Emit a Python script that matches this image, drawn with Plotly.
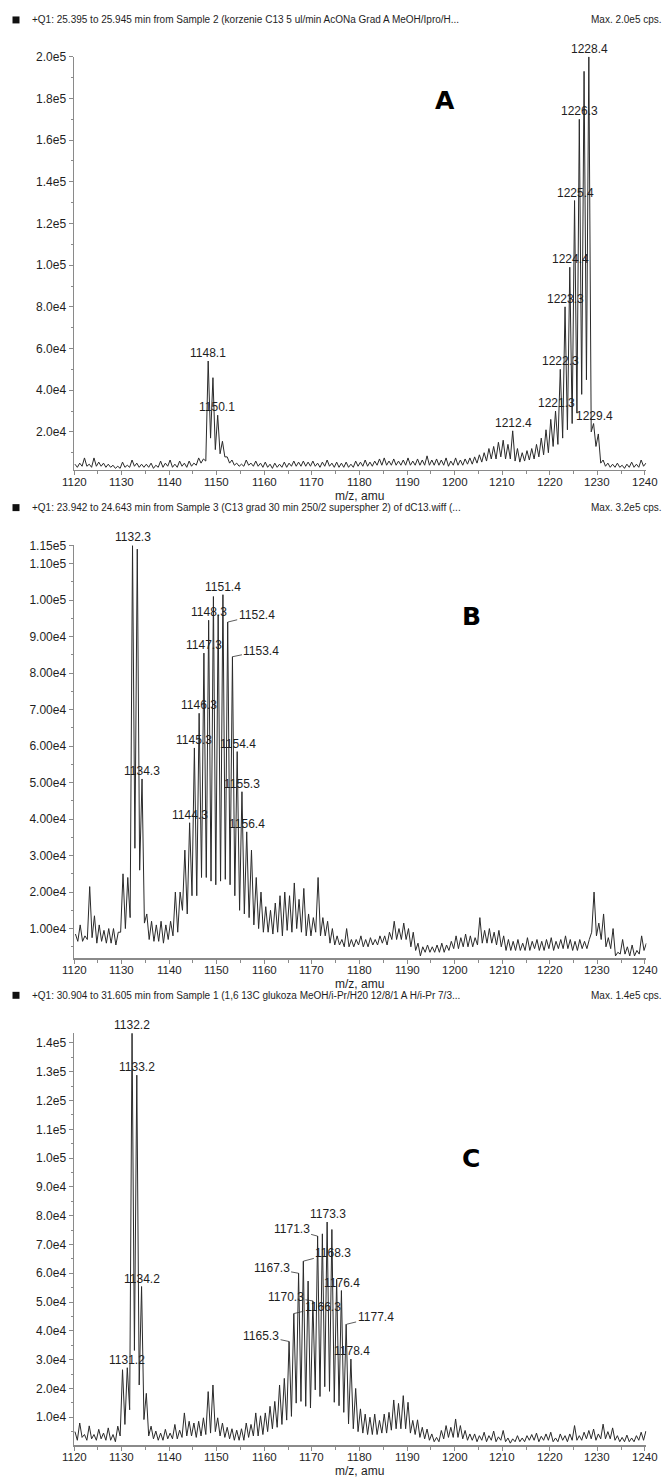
import plotly.graph_objects as go

W, H = 667, 1482
MZ0 = 1120  # first integer m/z of every panel

# ---------------- data (intensity in 1e3 cps) ----------------
# maxima at integer m/z (m = 1120..1240) + panel offset ; troughs half-way between
a_peaks = [4.5, 5, 7.5, 4.5, 7.5, 5.5, 5, 4.5, 4, 3.5,
           5.5, 4, 6.5, 5, 4.5, 4.5, 5, 4, 6, 5,
           6.5, 4.5, 6, 5, 6, 5, 7.5, 7, 54, 46,
           28, 15.5, 8, 6.5, 5, 4.5, 6.5, 5, 6, 5,
           5.5, 4.5, 5, 4.5, 5.5, 5, 6, 5.5, 6, 5.5,
           6, 5, 5.5, 6.5, 5, 5.5, 5, 5.5, 4.5, 6,
           5.5, 6.5, 5.5, 6, 7, 7.5, 6, 7, 6, 6.5,
           7.5, 6, 7, 6.5, 8.5, 6.5, 7, 6.5, 7.5, 6,
           7.5, 6.5, 7, 7.5, 8, 9, 10, 12, 13, 15,
           16, 14, 20.5, 12, 10, 11, 12, 14, 17, 21,
           26, 30, 50, 80, 99, 131, 170, 193, 200, 24,
           19, 6.5, 5, 4.5, 5, 4, 4.5, 5.5, 4.5, 6.5,
           5]
a_troughs = [3, 3.5, 3.5, 3, 3.5, 3.5, 3, 3, 2.5, 2.5,
             3, 3, 3.5, 3, 3, 3, 2.5, 3, 3, 3.5,
             3, 3, 3.5, 3, 3.5, 4, 5, 6, 17, 11.5,
             9.5, 8, 5, 4, 3.5, 3.5, 4, 3.5, 3.5, 3,
             3, 2.5, 3, 3, 3, 3.5, 3.5, 3.5, 3.5, 3.5,
             3.5, 3, 3.5, 3.5, 3, 3, 3, 3, 3, 3.5,
             3.5, 3.5, 3.5, 4, 4, 4, 4, 4, 4, 4,
             4, 4, 4, 4, 4, 4, 4, 4, 3.5, 4,
             4, 4, 4.5, 4.5, 5, 5.5, 6, 7, 7, 8,
             7, 7, 6, 5.5, 6, 6.5, 7, 8, 9, 10,
             13, 14, 17, 21, 24, 29, 38, 45, 20, 13,
             5, 3.5, 3, 3, 3, 2.5, 3, 3, 3, 3.5]

b_peaks = [8.5, 11, 8, 21.5, 13.5, 11, 9.5, 10, 10, 9,
           25, 24, 115, 114, 51, 14, 12, 11, 12, 11,
           12, 20, 20, 31.5, 39, 59.5, 69, 85.5, 94.5, 101,
           96, 101.5, 94, 84.5, 58.5, 47.5, 36.5, 31.5, 24, 20,
           16, 15, 17, 19, 20, 19, 22.5, 18, 21, 14,
           13, 24, 13, 12, 10, 8, 7, 10, 7, 7,
           8, 7, 7.5, 7, 8, 8, 9, 12, 10, 11.5,
           10, 9, 6, 5, 5.5, 5, 5.5, 6, 5.5, 6.5,
           8, 7.5, 8.5, 8, 7.5, 13, 9.5, 10, 9, 9.5,
           8, 7, 6.5, 7, 6, 7.5, 6.5, 7, 6.5, 7,
           7.5, 6.5, 7, 8, 7, 6.5, 7, 6.5, 7, 20,
           11.5, 14, 7.5, 10, 3.5, 7, 5, 5.5, 4, 8,
           6]
b_troughs = [6.5, 6.5, 7, 7.5, 6, 6.5, 6, 6, 5.5, 9,
             10, 13, 32, 26, 11.5, 7, 6.5, 6.5, 6, 7,
             8, 9, 15, 14, 19, 19, 24, 24, 23, 22,
             23, 23.5, 22, 19, 15, 14, 13, 11, 10, 9,
             9, 8.5, 9, 8, 9.5, 9, 10, 9, 8, 8,
             9, 8, 8, 6, 5.5, 5.5, 5, 5, 5, 5.5,
             5, 5, 5.5, 5.5, 6, 5.5, 7, 7, 7, 7,
             5, 4, 2.5, 3.5, 3.5, 3.5, 3.5, 3.5, 4, 4.5,
             4.5, 5, 5, 5, 5.5, 6, 6, 6, 5.5, 5,
             4, 4, 4, 4, 4, 4, 4.5, 4, 4, 4.5,
             4, 4.5, 4.5, 4.5, 4, 4, 4.5, 4.5, 9, 8,
             7, 5, 4.5, 2.5, 3, 3, 2.5, 2.5, 3, 4]

c_peaks = [5, 8, 4, 7, 4, 5.8, 4.5, 6.3, 4, 6.9,
           26.5, 27.2, 143.4, 128.8, 55.4, 18.3, 6.9, 5.2, 4.5, 5.8,
           4.5, 7.5, 5.5, 11.5, 8.6, 8, 8.6, 9.8, 18.9, 21.2,
           9.8, 8, 6.5, 6, 5.5, 6, 8, 7.5, 11.5, 10.5,
           11.5, 13.8, 15.5, 21.2, 23.5, 36.3, 46, 60, 64.2, 57.3,
           50.4, 72.9, 73.7, 77.8, 75.2, 57.9, 54, 42.3, 30.2, 20,
           12.9, 11.1, 10, 11.1, 8.9, 11.1, 11.7, 16, 14.8, 17.5,
           15.2, 8.9, 9.1, 6.5, 5.9, 4.2, 3, 5.4, 7.1, 6.5,
           9.4, 7.1, 5.4, 4.2, 4.2, 3.6, 4.8, 3.6, 5.2, 3.2,
           5.4, 2.8, 2.5, 3.6, 2.8, 3.6, 4, 4.5, 3.4, 4.2,
           4.8, 2.8, 4.2, 3.6, 4.2, 7.1, 3.6, 4.8, 5.4, 5.9,
           4.2, 7.6, 5, 6.3, 3.6, 3, 3.8, 2.8, 3.6, 4.8,
           5.2]
c_troughs = [2, 3, 2, 2.5, 2, 2.5, 2, 2, 1.5, 3.5,
             7.5, 12.6, 33.2, 21.2, 9.2, 3.5, 2.5, 2, 2, 2.5,
             2.5, 2.5, 3, 3.5, 3.5, 3, 3.5, 4, 4.5, 5,
             3.5, 3, 2.5, 2, 2, 2, 3, 3.5, 3.5, 4,
             5, 6, 6.5, 7.5, 9, 10.3, 14.9, 15.5, 13.8, 13.2,
             19.5, 17.2, 20.6, 19, 15.2, 14, 11.7, 7.7, 6, 5,
             4.5, 4, 4, 4, 4.5, 4.5, 5.5, 6, 6, 6,
             4.5, 4, 3, 2.5, 2, 1.5, 1.5, 2.5, 3, 3,
             3, 2.5, 2, 2, 1.5, 2, 1.5, 2, 1.5, 2,
             1.5, 1, 1.5, 1.5, 1.5, 2, 2, 1.5, 2, 2,
             1.5, 1.5, 2, 1.5, 2, 2, 2, 2.5, 2.5, 2,
             2.5, 2.5, 2.5, 2, 1.5, 1.5, 1.5, 1.5, 2, 2]

# labelled peaks (m/z shown as text)
a_labels = [1148.1, 1150.1, 1212.4, 1221.3, 1222.3, 1223.3, 1224.4, 1225.4, 1226.3, 1228.4, 1229.4]
b_labels = [1132.3, 1134.3, 1144.3, 1145.3, 1146.3, 1147.3, 1148.3, 1151.4, 1152.4, 1153.4, 1154.4, 1155.3, 1156.4]
c_labels = [1131.2, 1132.2, 1133.2, 1134.2, 1165.3, 1166.3, 1167.3, 1168.3, 1170.3, 1171.3, 1173.3,
            1176.4, 1177.4, 1178.4]

# axis ticks
a_tickvals = [2e4, 4e4, 6e4, 8e4, 1e5, 1.2e5, 1.4e5, 1.6e5, 1.8e5, 2e5]
a_ticktext = ["2.0e4", "4.0e4", "6.0e4", "8.0e4", "1.0e5", "1.2e5", "1.4e5", "1.6e5", "1.8e5", "2.0e5"]
b_tickvals = [1e4, 2e4, 3e4, 4e4, 5e4, 6e4, 7e4, 8e4, 9e4, 1e5, 1.1e5, 1.15e5]
b_ticktext = ["1.00e4", "2.00e4", "3.00e4", "4.00e4", "5.00e4", "6.00e4", "7.00e4", "8.00e4",
              "9.00e4", "1.00e5", "1.10e5", "1.15e5"]
c_tickvals = [1e4, 2e4, 3e4, 4e4, 5e4, 6e4, 7e4, 8e4, 9e4, 1e5, 1.1e5, 1.2e5, 1.3e5, 1.4e5]
c_ticktext = ["1.0e4", "2.0e4", "3.0e4", "4.0e4", "5.0e4", "6.0e4", "7.0e4", "8.0e4", "9.0e4",
              "1.0e5", "1.1e5", "1.2e5", "1.3e5", "1.4e5"]
x_tickvals = [1120, 1130, 1140, 1150, 1160, 1170, 1180, 1190, 1200, 1210, 1220, 1230, 1240]
x_ticktext = ["1120", "1130", "1140", "1150", "1160", "1170", "1180", "1190", "1200", "1210",
              "1220", "1230", "1240"]

headers = [
    "+Q1: 25.395 to 25.945 min from Sample 2 (korzenie C13 5 ul/min AcONa Grad A MeOH/Ipro/H...",
    "+Q1: 23.942 to 24.643 min from Sample 3 (C13 grad 30 min 250/2 superspher 2) of dC13.wiff (...",
    "+Q1: 30.904 to 31.605 min from Sample 1 (1,6 13C glukoza MeOH/i-Pr/H20 12/8/1 A H/i-Pr 7/3...",
]
max_texts = ["Max. 2.0e5 cps.", "Max. 3.2e5 cps.", "Max. 1.4e5 cps."]
panel_letters = ["A", "B", "C"]
threshold_marks = [2.0e4, 2.55e4, 2.5e4]

# ---------------- styling / layout constants ----------------
FONT = "Liberation Sans, Arial, sans-serif"
TXT = "#1e1e1e"
AXC = "#8a8a8a"
LINEC = "#2a2a2a"
X_LEFT, X_RIGHT = 74, 646.4
X_RANGE = [1120, 1240.3]
panels_px = [(50, 465), (541, 956), (1031, 1445)]   # (top, bottom) of plot areas
header_px = [13, 503, 993]
y_ranges = [[1800, 200000], [1800, 115000], [300, 143400]]
offsets = [0.2, 0.3, 0.2]
minor_dt = [1e4, 5e3, 5e3]
letter_pos = [(1198, 1.79e5), (1203.5, 9.55e4), (1203.5, 1.0e5)]
leaders = {  # panel index, label -> (ax, ay) pixel offset of text
    (1, 1152.4): (29, -7), (1, 1153.4): (29, -6),
    (2, 1165.3): (-28, -6), (2, 1166.3): (29, -7), (2, 1167.3): (-27, -5),
    (2, 1168.3): (30, -8), (2, 1170.3): (-27, -4), (2, 1171.3): (-26, -7),
    (2, 1177.4): (29, -7),
}


def py(pix):
    return 1 - pix / H


def px(pix):
    return pix / W


def build_xy(peaks, troughs, off):
    xs, ys = [], []
    for i, p in enumerate(peaks):
        xs.append(MZ0 + i + off)
        ys.append(p * 1000)
        if i < len(troughs):
            xs.append(MZ0 + i + off + 0.5)
            ys.append(troughs[i] * 1000)
    return xs, ys


fig = go.Figure()
all_peaks = [a_peaks, b_peaks, c_peaks]
all_troughs = [a_troughs, b_troughs, c_troughs]
all_labels = [a_labels, b_labels, c_labels]
all_tv = [a_tickvals, b_tickvals, c_tickvals]
all_tt = [a_ticktext, b_ticktext, c_ticktext]

annotations = []
shapes = []
layout_axes = {}

for k in range(3):
    xa = "x" if k == 0 else f"x{k+1}"
    ya = "y" if k == 0 else f"y{k+1}"
    xs, ys = build_xy(all_peaks[k], all_troughs[k], offsets[k])
    fig.add_trace(go.Scatter(x=xs, y=ys, mode="lines", xaxis=xa, yaxis=ya,
                             line=dict(color=LINEC, width=1), hoverinfo="skip",
                             showlegend=False))
    # threshold marker on the y axis
    fig.add_trace(go.Scatter(x=[X_RANGE[0] - 0.55], y=[threshold_marks[k]], mode="markers",
                             xaxis=xa, yaxis=ya, cliponaxis=False, showlegend=False,
                             hoverinfo="skip",
                             marker=dict(symbol="triangle-right", size=7, color="#111")))
    top, bot = panels_px[k]
    layout_axes["xaxis" if k == 0 else f"xaxis{k+1}"] = dict(
        domain=[px(X_LEFT), px(X_RIGHT)], range=X_RANGE, anchor=ya,
        tickmode="array", tickvals=x_tickvals, showticklabels=False,
        showline=True, linecolor=AXC, linewidth=1.5, ticks="outside", ticklen=4,
        tickcolor=AXC, tickwidth=1, showgrid=False, zeroline=False,
        minor=dict(tickmode="linear", tick0=1120, dtick=5, ticks="outside",
                   ticklen=3, tickcolor=AXC, showgrid=False),
    )
    layout_axes["yaxis" if k == 0 else f"yaxis{k+1}"] = dict(
        domain=[py(bot), py(top)], range=y_ranges[k], anchor=xa,
        tickmode="array", tickvals=all_tv[k], ticktext=all_tt[k],
        showline=True, linecolor=AXC, linewidth=1.5, ticks="outside", ticklen=4,
        tickcolor=AXC, tickwidth=1, showgrid=False, zeroline=False,
        tickfont=dict(family=FONT, size=12, color=TXT),
        minor=dict(tickmode="linear", tick0=0, dtick=minor_dt[k], ticks="outside",
                   ticklen=2, tickcolor=AXC, showgrid=False),
    )
    # x tick labels placed just under the axis
    for tv, tt in zip(x_tickvals, x_ticktext):
        annotations.append(dict(x=tv, y=py(bot + 12), xref=xa, yref="paper", text=tt,
                                showarrow=False, xanchor="center", yanchor="middle",
                                borderpad=0, font=dict(family=FONT, size=11.5, color=TXT)))
    # peak labels
    for lab in all_labels[k]:
        idx = int(round(lab)) - MZ0
        yv = all_peaks[k][idx] * 1000
        if (k, lab) in leaders:
            ax, ay = leaders[(k, lab)]
            annotations.append(dict(x=lab - 0.1, y=yv, xref=xa, yref=ya, text=f"{lab:.1f}",
                                    showarrow=True, arrowhead=0, arrowwidth=0.8,
                                    arrowcolor="#333", ax=ax, ay=ay, standoff=0,
                                    font=dict(family=FONT, size=12, color=TXT)))
        else:
            annotations.append(dict(x=lab, y=yv, xref=xa, yref=ya, text=f"{lab:.1f}",
                                    showarrow=False, yanchor="bottom", xanchor="center",
                                    yshift=-1,
                                    font=dict(family=FONT, size=12, color=TXT)))
    # panel letter
    lx, ly = letter_pos[k]
    annotations.append(dict(x=lx, y=ly, xref=xa, yref=ya, text=f"<b>{panel_letters[k]}</b>",
                            showarrow=False, font=dict(family="DejaVu Sans, sans-serif",
                                                       size=25, color="#000")))
    # header line
    hy = header_px[k]
    shapes.append(dict(type="rect", xref="paper", yref="paper",
                       x0=px(12.5), x1=px(19.5), y0=py(hy + 3.5), y1=py(hy - 3.5),
                       fillcolor="#111", line=dict(width=0)))
    annotations.append(dict(x=px(30), y=py(hy), xref="paper", yref="paper", text=headers[k],
                            showarrow=False, xanchor="left", yanchor="middle",
                            font=dict(family=FONT, size=10, color=TXT)))
    annotations.append(dict(x=px(664), y=py(hy), xref="paper", yref="paper", text=max_texts[k],
                            showarrow=False, xanchor="right", yanchor="middle",
                            font=dict(family=FONT, size=10, color=TXT)))
    # x axis title
    annotations.append(dict(x=px((74 + 645) / 2), y=py(bot + 26), xref="paper", yref="paper",
                            text="m/z, amu", showarrow=False, xanchor="center", yanchor="middle",
                            borderpad=0, font=dict(family=FONT, size=12, color=TXT)))

fig.update_layout(width=W, height=H, margin=dict(l=0, r=0, t=0, b=0),
                  paper_bgcolor="white", plot_bgcolor="white", showlegend=False,
                  hovermode=False, annotations=annotations, shapes=shapes, **layout_axes)

fig.write_html("out.html", include_plotlyjs=True,
               config={"displayModeBar": False, "staticPlot": True},
               post_script="document.documentElement.style.overflow='hidden';"
                           "document.body.style.margin='0';document.body.style.overflow='hidden';")
